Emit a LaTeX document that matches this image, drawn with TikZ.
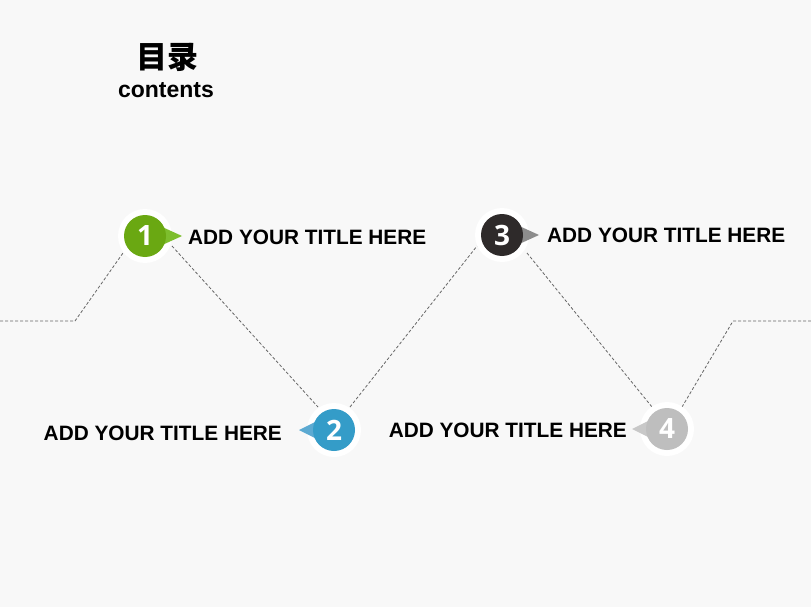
\documentclass[tikz,border=0pt]{standalone}
\usepackage{fontspec}
\setmainfont{Liberation Sans}
\newfontfamily\cjk{Noto Sans CJK SC}
\newfontfamily\numfont{Open Sans}
\definecolor{bgc}{RGB}{248,248,248}
\definecolor{c1}{RGB}{106,168,18}
\definecolor{p1}{RGB}{125,190,45}
\definecolor{c2}{RGB}{52,156,200}
\definecolor{p2}{RGB}{92,170,210}
\definecolor{c3}{RGB}{46,42,42}
\definecolor{p3}{RGB}{140,140,140}
\definecolor{c4}{RGB}{190,190,190}
\definecolor{p4}{RGB}{200,200,200}
\begin{document}
\begin{tikzpicture}[x=1pt,y=-1pt,
  conn/.style={draw=gray!80!black, dash pattern=on 3pt off 2pt, line width=0.8pt},
  ring/.style={circle, fill=white, minimum size=54pt, inner sep=0pt},
  dot/.style={circle, minimum size=42pt, inner sep=0pt, text=white, font=\numfont\bfseries\fontsize{28}{28}\selectfont},
  ttl/.style={font=\bfseries\fontsize{20.8}{22}\selectfont, inner sep=0pt, text=black}]
\useasboundingbox (0,0) rectangle (811,607);
\fill[bgc] (0,0) rectangle (811,607);
% path coordinates
\coordinate (l0) at (0,321);
\coordinate (l1) at (75,321);
\coordinate (a1) at (123,253);
\coordinate (b1) at (172,246);
\coordinate (a2) at (318,407);
\coordinate (b2) at (350,407);
\coordinate (a3) at (477,246);
\coordinate (b3) at (527,253);
\coordinate (a4) at (652,407);
\coordinate (b4) at (682,407);
\coordinate (r1) at (733,321);
\coordinate (r0) at (811,321);
\draw[conn] (l0) -- (l1) -- (a1);
\draw[conn] (b1) -- (a2);
\draw[conn] (b2) -- (a3);
\draw[conn] (b3) -- (a4);
\draw[conn] (b4) -- (r1) -- (r0);
% rings
\node[ring] (w1) at (145,236) {};
\node[ring] (w2) at (334,430) {};
\node[ring] (w3) at (502,235) {};
\node[ring] (w4) at (667,429) {};
% pointers
\fill[p1] (160,226) -- (182,236) -- (160,246) -- cycle;
\fill[p2] (319,420) -- (299,430) -- (319,440) -- cycle;
\fill[p3] (517,225) -- (539,235) -- (517,245) -- cycle;
\fill[p4] (652,419) -- (632,429) -- (652,439) -- cycle;
% dots
\node[dot, fill=c1] (n1) at (w1) {1};
\node[dot, fill=c2] (n2) at (w2) {2};
\node[dot, fill=c3] (n3) at (w3) {3};
\node[dot, fill=c4] (n4) at (w4) {4};
% titles
\node[ttl, anchor=west] (t1) at (188,237) {ADD YOUR TITLE HERE};
\node[ttl, anchor=east] (t2) at (282,433) {ADD YOUR TITLE HERE};
\node[ttl, anchor=west] (t3) at (547,235) {ADD YOUR TITLE HERE};
\node[ttl, anchor=east] (t4) at (627,430) {ADD YOUR TITLE HERE};
% heading
\node[font=\cjk\bfseries\fontsize{31}{31}\selectfont, inner sep=0pt] (h1) at (167,57) {目录};
\node[font=\bfseries\fontsize{23}{24}\selectfont, inner sep=0pt] (h2) at (166,90) {contents};
\end{tikzpicture}
\end{document}
